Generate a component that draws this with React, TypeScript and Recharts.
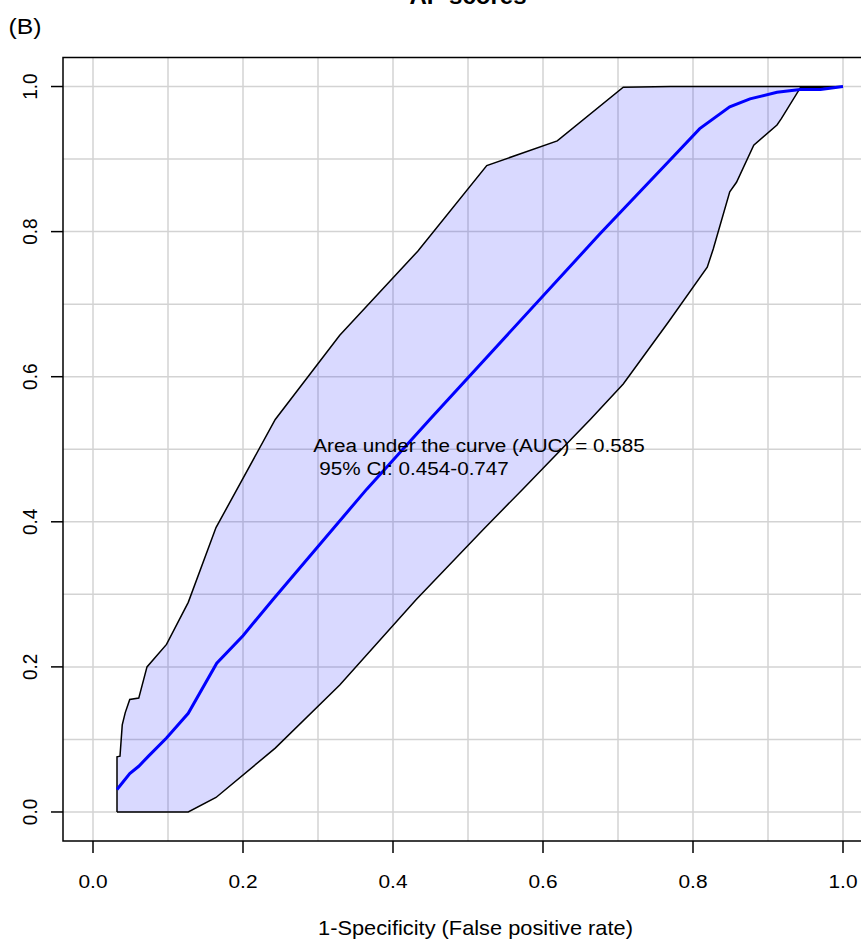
import React from 'react';
import {
  ComposedChart,
  Area,
  Line,
  XAxis,
  YAxis,
  CartesianGrid,
  ReferenceArea,
  ReferenceDot,
} from 'recharts';

// ---- data ----
const xTicks = [0, 0.2, 0.4, 0.6, 0.8, 1.0];
const yTicks = [0, 0.2, 0.4, 0.6, 0.8, 1.0];
const gridValues = [0, 0.1, 0.2, 0.3, 0.4, 0.5, 0.6, 0.7, 0.8, 0.9, 1.0];

// ROC curve (1-specificity, sensitivity)
const rocFpr = [0.032, 0.049, 0.061, 0.074, 0.098, 0.127, 0.165, 0.2, 0.24, 0.365, 0.449, 0.676, 0.765, 0.809, 0.849, 0.876, 0.912, 0.943, 0.97, 1.0];
const rocTpr = [0.031, 0.053, 0.063, 0.077, 0.102, 0.136, 0.205, 0.243, 0.293, 0.445, 0.541, 0.797, 0.894, 0.942, 0.972, 0.983, 0.992, 0.996, 0.996, 1.0];

// upper 95% CI bound of sensitivity
const ciUpperFpr = [0.032, 0.032, 0.036, 0.039, 0.043, 0.049, 0.061, 0.072, 0.098, 0.127, 0.164, 0.243, 0.329, 0.433, 0.525, 0.619, 0.707, 0.77, 1.0];
const ciUpperTpr = [0.0, 0.076, 0.077, 0.12, 0.137, 0.155, 0.157, 0.2, 0.231, 0.289, 0.392, 0.541, 0.657, 0.773, 0.891, 0.925, 0.999, 1.0, 1.0];

// lower 95% CI bound of sensitivity
const ciLowerFpr = [0.032, 0.127, 0.164, 0.243, 0.329, 0.431, 0.521, 0.573, 0.663, 0.707, 0.767, 0.819, 0.827, 0.849, 0.858, 0.881, 0.912, 0.918, 0.943];
const ciLowerTpr = [0.0, 0.0, 0.02, 0.088, 0.175, 0.293, 0.39, 0.445, 0.541, 0.59, 0.675, 0.751, 0.776, 0.855, 0.868, 0.919, 0.947, 0.956, 0.998];

const aucText = 'Area under the curve (AUC) = 0.585';
const ciText = '95% CI: 0.454-0.747';
const xLabel = '1-Specificity (False positive rate)';
const panelLabel = '(B)';
const titleText = 'AP scores';

// tables built for the library
const rocData = rocFpr.map((x, i) => ({ x, y: rocTpr[i] }));
const upperPts = ciUpperFpr.map((x, i) => ({ x, y: ciUpperTpr[i] }));
const lowerPts = ciLowerFpr.map((x, i) => ({ x, y: ciLowerTpr[i] }));
const ciPolygon = [...upperPts, ...lowerPts.slice().reverse()];

const FONT = '"Liberation Sans", Arial, Helvetica, sans-serif';
const SX = 1.1;

const XTick = (props: any) => {
  const { x, y, payload } = props;
  return (
    <text
      transform={`translate(${x},${y + 35}) scale(${SX},1)`}
      textAnchor="middle"
      fontSize={19}
      fontFamily={FONT}
      fill="#000"
    >
      {Number(payload.value).toFixed(1)}
    </text>
  );
};

const YTick = (props: any) => {
  const { x, y, payload } = props;
  return (
    <text
      transform={`translate(${x - 13.7},${y}) scale(${SX},1) rotate(-90)`}
      textAnchor="middle"
      fontSize={19}
      fontFamily={FONT}
      fill="#000"
    >
      {Number(payload.value).toFixed(1)}
    </text>
  );
};

const Annotation = (props: any) => {
  const vb = props.viewBox || {};
  const cx = vb.x + (vb.width || 0) / 2;
  const cy = vb.y + (vb.height || 0) / 2;
  return (
    <g>
      <text
        transform={`translate(${cx},${cy}) scale(${SX},1)`}
        fontSize={18.8}
        fontFamily={FONT}
        fill="#000"
        textAnchor="start"
      >
        {aucText}
      </text>
      <text
        transform={`translate(${cx + 6},${cy + 23.3}) scale(${SX},1)`}
        fontSize={18.8}
        fontFamily={FONT}
        fill="#000"
        textAnchor="start"
      >
        {ciText}
      </text>
    </g>
  );
};

export default function App() {
  return (
    <div
      style={{
        position: 'absolute',
        left: 0,
        top: 0,
        width: 861,
        height: 942,
        overflow: 'hidden',
        background: '#fff',
      }}
    >
      <ComposedChart
        width={880}
        height={942}
        margin={{ top: 57.5, right: 7, bottom: 0, left: 0 }}
      >
        <CartesianGrid
          stroke="#d3d3d3"
          strokeWidth={1.5}
          horizontalValues={gridValues}
          verticalValues={gridValues}
        />
        <XAxis
          type="number"
          dataKey="x"
          domain={[-0.04, 1.04]}
          ticks={xTicks}
          interval={0}
          allowDataOverflow
          axisLine={false}
          tickLine={{ stroke: '#000', strokeWidth: 1.5 }}
          tickSize={12}
          tickMargin={0}
          height={101}
          tick={<XTick />}
        />
        <YAxis
          type="number"
          dataKey="y"
          domain={[-0.04, 1.04]}
          ticks={yTicks}
          interval={0}
          allowDataOverflow
          axisLine={false}
          tickLine={{ stroke: '#000', strokeWidth: 1.5 }}
          tickSize={12}
          tickMargin={0}
          width={63}
          tick={<YTick />}
        />
        <Area
          data={ciPolygon}
          dataKey="y"
          type="linear"
          stroke="#000"
          strokeWidth={1.5}
          fill="#0000ff"
          fillOpacity={0.15}
          dot={false}
          activeDot={false}
          isAnimationActive={false}
        />
        <Line
          data={rocData}
          dataKey="y"
          type="linear"
          stroke="#0000ff"
          strokeWidth={3}
          dot={false}
          activeDot={false}
          isAnimationActive={false}
        />
        <ReferenceArea
          x1={-0.04}
          x2={1.04}
          y1={-0.04}
          y2={1.04}
          fill="none"
          stroke="#000"
          strokeWidth={1.5}
          ifOverflow="visible"
        />
        <ReferenceDot
          x={0.2937}
          y={0.4968}
          r={0}
          fill="none"
          stroke="none"
          ifOverflow="visible"
          label={<Annotation />}
        />
      </ComposedChart>
      <svg
        width={861}
        height={942}
        style={{ position: 'absolute', left: 0, top: 0, pointerEvents: 'none' }}
      >
        <text
          x={468}
          y={4}
          textAnchor="middle"
          fontSize={24}
          fontWeight="bold"
          fontFamily={FONT}
          fill="#000"
        >
          {titleText}
        </text>
        <text
          transform={`translate(8.5,34) scale(${SX},1)`}
          fontSize={22.5}
          fontFamily={FONT}
          fill="#000"
        >
          {panelLabel}
        </text>
        <text
          transform={`translate(475.5,935) scale(1.09,1)`}
          textAnchor="middle"
          fontSize={20}
          fontFamily={FONT}
          fill="#000"
        >
          {xLabel}
        </text>
      </svg>
    </div>
  );
}
